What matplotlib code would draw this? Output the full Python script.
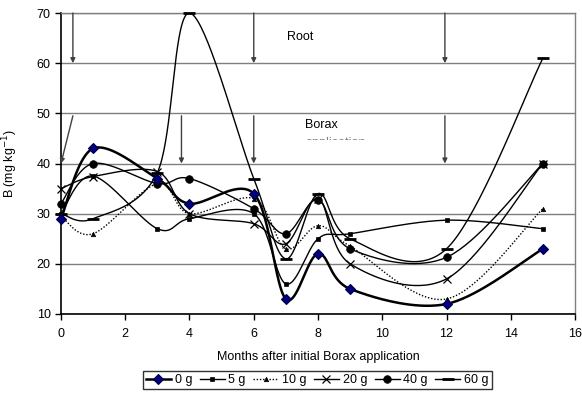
import numpy as np
import matplotlib
matplotlib.use("Agg")
import matplotlib.pyplot as plt
from matplotlib.lines import Line2D
from matplotlib.transforms import Bbox, TransformedBbox

plt.rcParams['font.family'] = ['Liberation Sans', 'DejaVu Sans']

months = [0, 1, 3, 4, 6, 7, 8, 9, 12, 15]
series_labels = ["0 g", "5 g", "10 g", "20 g", "40 g", "60 g"]
b_0g = [29, 43, 37, 32, 34, 13, 22, 15, 12, 23]
b_5g = [30, 37.5, 27, 29, 30, 16, 25, 26, 28.7, 27]
b_10g = [29.5, 26, 36, 30, 33, 23, 27.6, 23.5, 13, 31]
b_20g = [35, 37.4, 38.4, 30, 28, 24, 33, 20, 17, 40]
b_40g = [32, 40, 36, 37, 31, 26, 32.8, 23, 21.3, 40]
b_60g = [30, 29, 38.2, 70, 37, 21, 34, 25, 23, 61]

root_arrow_x = [0.37, 6.0, 11.95]
borax_arrow_start_x = [0.37, 3.75, 6.0, 11.95]
borax_arrow_end_x = [0.0, 3.75, 6.0, 11.95]

styles = [
    dict(lw=1.8, ls='-', marker='D', ms=5.5, mfc='#000080', mec='#000040', mew=0.8),
    dict(lw=1.0, ls='-', marker='s', ms=3.2, mfc='black', mec='black', mew=0.5),
    dict(lw=1.0, ls=(0, (1, 1.3)), marker='^', ms=3.2, mfc='black', mec='black', mew=0.5),
    dict(lw=1.0, ls='-', marker='x', ms=5.5, mfc='black', mec='black', mew=0.9),
    dict(lw=1.0, ls='-', marker='o', ms=5.5, mfc='black', mec='black', mew=0.5),
    dict(lw=1.0, ls='-', marker='_', ms=9, mfc='black', mec='black', mew=2.0),
]


def smooth(xs, ys, n=40):
    xs = np.asarray(xs, float)
    ys = np.asarray(ys, float)
    px, py = [], []
    m = len(xs)
    for i in range(m - 1):
        i0 = max(i - 1, 0)
        i3 = min(i + 2, m - 1)
        p0 = np.array([xs[i0], ys[i0]])
        p1 = np.array([xs[i], ys[i]])
        p2 = np.array([xs[i + 1], ys[i + 1]])
        p3 = np.array([xs[i3], ys[i3]])
        c1 = p1 + (p2 - p0) / 6.0
        c2 = p2 - (p3 - p1) / 6.0
        t = np.linspace(0, 1, n)[:, None]
        pts = ((1 - t) ** 3) * p1 + 3 * ((1 - t) ** 2) * t * c1 + 3 * (1 - t) * t ** 2 * c2 + t ** 3 * p2
        if i > 0:
            pts = pts[1:]
        px.extend(pts[:, 0])
        py.extend(pts[:, 1])
    return np.array(px), np.array(py)


fig = plt.figure(figsize=(5.82, 4.0), dpi=100)
ax = fig.add_axes([0.1048, 0.215, 0.8832, 0.7525])

all_series = [b_0g, b_5g, b_10g, b_20g, b_40g, b_60g]
handles = []
order = [5, 4, 3, 2, 1, 0]
for idx in order:
    ys = all_series[idx]
    st = styles[idx]
    sx, sy = smooth(months, ys)
    ax.plot(sx, sy, color='black', lw=st['lw'], ls=st['ls'], zorder=3 + (6 - idx) * 0.1)
    ax.plot(months, ys, ls='none', marker=st['marker'], ms=st['ms'], mfc=st['mfc'],
            mec=st['mec'], mew=st['mew'], zorder=4 + (6 - idx) * 0.1, clip_on=False)
for idx in range(6):
    st = styles[idx]
    handles.append(Line2D([], [], color='black', lw=st['lw'], ls=st['ls'], marker=st['marker'],
                          ms=st['ms'], mfc=st['mfc'], mec=st['mec'], mew=st['mew']))

ax.set_xlim(0, 16)
ax.set_ylim(10, 70)
ax.set_xticks(range(0, 17, 2))
ax.set_yticks(range(10, 71, 10))
ax.yaxis.grid(True, color='#7f7f7f', lw=1.0)
ax.set_axisbelow(True)
for s in ['top', 'right']:
    ax.spines[s].set_color('#7f7f7f')
    ax.spines[s].set_linewidth(1.0)
for s in ['left', 'bottom']:
    ax.spines[s].set_color('black')
    ax.spines[s].set_linewidth(1.2)
ax.tick_params(axis='both', direction='out', length=4, width=1, labelsize=9, colors='black')
ax.tick_params(axis='x', pad=6)

ax.set_xlabel("Months after initial Borax application", fontsize=9, labelpad=8)
ax.set_ylabel("B (mg kg$^{-1}$)", fontsize=9, labelpad=12)

arrow_color = '#404040'
for xr in root_arrow_x:
    ax.annotate('', xy=(xr, 60), xytext=(xr, 70),
                arrowprops=dict(arrowstyle='-|>', color=arrow_color, lw=1.0,
                                mutation_scale=7, shrinkA=0, shrinkB=0))
for xs_, xe_ in zip(borax_arrow_start_x, borax_arrow_end_x):
    ax.annotate('', xy=(xe_, 40), xytext=(xs_, 49.5),
                arrowprops=dict(arrowstyle='-|>', color=arrow_color, lw=1.0,
                                mutation_scale=7, shrinkA=0, shrinkB=0))

ax.text(7.05, 65.2, "Root", fontsize=9, va='center', ha='left')
ax.text(7.6, 47.6, "Borax", fontsize=9, va='center', ha='left')
t_app = ax.text(7.6, 44.0, "application", fontsize=9, va='center', ha='left', color='#808080')
t_app.set_clip_box(TransformedBbox(Bbox([[7.0, 44.75], [11.0, 47.0]]), ax.transData))
t_app.set_clip_on(True)

leg = fig.legend(handles, series_labels, loc='center', bbox_to_anchor=(0.545, 0.05), ncol=6,
                 fontsize=9, frameon=True, fancybox=False, edgecolor='black',
                 handlelength=2.0, handletextpad=0.3, columnspacing=0.6, borderpad=0.25)
leg.get_frame().set_linewidth(1.0)

fig.savefig("out.png", dpi=100)
